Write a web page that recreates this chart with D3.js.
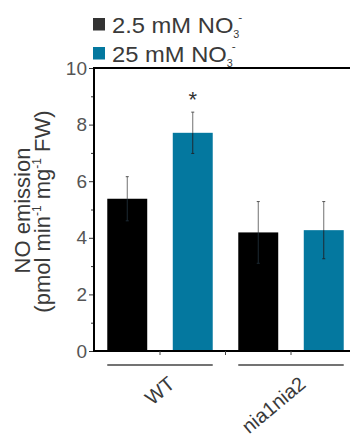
<!DOCTYPE html>
<html>
<head>
<meta charset="utf-8">
<script src="https://cdn.jsdelivr.net/npm/d3@7"></script>
<style>
  html, body { margin: 0; padding: 0; background: #fff; }
  svg { display: block; font-family: "Liberation Sans", Arial, Helvetica, sans-serif; }
</style>
</head>
<body>
<svg id="chart" width="350" height="437"></svg>
<script>
// ---- data ----
const groups = ["WT", "nia1nia2"];
const seriesNames = ["2.5 mM NO", "25 mM NO"];
const seriesColors = ["#000000", "#04789f"];
const legendColors = ["#333333", "#04789f"];
const means = [
  [5.38, 7.71],   // WT: 2.5, 25
  [4.19, 4.27]    // nia1nia2: 2.5, 25
];
const errors = [
  [0.78, 0.73],
  [1.09, 1.01]
];
const significant = [
  [false, true],
  [false, false]
];
const yTicks = [0, 2, 4, 6, 8, 10];
const yMinorTicks = [1, 3, 5, 7, 9];

// ---- layout ----
const svg = d3.select("#chart");
const plot = { left: 94, right: 356.5, top: 68, bottom: 351 };
const textColor = "#3a3a3a";

const y = d3.scaleLinear().domain([0, 10]).range([plot.bottom, plot.top]);
const x0 = d3.scaleBand().domain(groups).range([plot.left + 0.5, plot.right]).padding(0);
const x1 = d3.scaleBand().domain(d3.range(seriesNames.length))
  .range([0, x0.bandwidth()]).paddingInner(0.39).paddingOuter(0.195);

// flattened bar records
const bars = [];
groups.forEach((g, gi) => {
  seriesNames.forEach((s, si) => {
    bars.push({ g, gi, si, v: means[gi][si], e: errors[gi][si], sig: significant[gi][si] });
  });
});

// bars
svg.append("g").selectAll("rect").data(bars).join("rect")
  .attr("x", d => x0(d.g) + x1(d.si))
  .attr("y", d => y(d.v))
  .attr("width", x1.bandwidth())
  .attr("height", d => y(0) - y(d.v))
  .attr("fill", d => seriesColors[d.si]);

// error bars
const eg = svg.append("g").attr("stroke-width", 1);
bars.forEach(d => {
  const cx = x0(d.g) + x1(d.si) + x1.bandwidth() / 2;
  eg.append("line").attr("x1", cx).attr("x2", cx)
    .attr("y1", y(d.v)).attr("y2", y(d.v + d.e)).attr("stroke", "#707070");
  eg.append("line").attr("x1", cx).attr("x2", cx)
    .attr("y1", y(d.v - d.e)).attr("y2", y(d.v)).attr("stroke", "#1c2a33");
  eg.append("line").attr("x1", cx - 1.5).attr("x2", cx + 1.5)
    .attr("y1", y(d.v + d.e)).attr("y2", y(d.v + d.e)).attr("stroke", "#555");
  eg.append("line").attr("x1", cx - 1.5).attr("x2", cx + 1.5)
    .attr("y1", y(d.v - d.e)).attr("y2", y(d.v - d.e)).attr("stroke", "#1c2a33");
  if (d.sig) {
    svg.append("text").attr("x", cx).attr("y", y(d.v + d.e) - 5)
      .attr("text-anchor", "middle").attr("font-size", 22).attr("fill", "#333")
      .text("*");
  }
});

// y axis
const yAxis = d3.axisLeft(y).tickValues(yTicks).tickSize(5).tickFormat(d3.format("d"));
const ya = svg.append("g").attr("transform", `translate(${plot.left},0)`).call(yAxis);
ya.select(".domain").remove();
ya.selectAll(".tick line").attr("stroke", "#333").attr("stroke-width", 1);
ya.selectAll(".tick text").attr("font-size", 19).attr("fill", "#555")
  .attr("font-family", "Liberation Sans, Arial, sans-serif").attr("x", -7);
const yMinor = d3.axisLeft(y).tickValues(yMinorTicks).tickSize(3).tickFormat("");
const ym = svg.append("g").attr("transform", `translate(${plot.left},0)`).call(yMinor);
ym.select(".domain").remove();
ym.selectAll(".tick line").attr("stroke", "#333").attr("stroke-width", 1);

// frame lines
svg.append("line").attr("x1", plot.left).attr("x2", plot.left)
  .attr("y1", plot.top - 1).attr("y2", plot.bottom + 1)
  .attr("stroke", "#000").attr("stroke-width", 2);
svg.append("line").attr("x1", plot.left).attr("x2", 350)
  .attr("y1", plot.top).attr("y2", plot.top)
  .attr("stroke", "#000").attr("stroke-width", 2);
svg.append("line").attr("x1", plot.left).attr("x2", 350)
  .attr("y1", plot.bottom).attr("y2", plot.bottom)
  .attr("stroke", "#000").attr("stroke-width", 2);

// x ticks at boundaries between bars
const boundaries = [];
for (let i = 1; i < bars.length; i++) {
  const a = bars[i - 1], b = bars[i];
  const ra = x0(a.g) + x1(a.si) + x1.bandwidth();
  const lb = x0(b.g) + x1(b.si);
  boundaries.push((ra + lb) / 2);
}
svg.append("g").selectAll("line").data(boundaries).join("line")
  .attr("x1", d => d).attr("x2", d => d)
  .attr("y1", plot.bottom).attr("y2", plot.bottom + 4)
  .attr("stroke", "#444").attr("stroke-width", 1);

// group underlines + labels
groups.forEach((g, gi) => {
  const left = x0(g) + x1(0);
  const right = x0(g) + x1(seriesNames.length - 1) + x1.bandwidth();
  svg.append("line").attr("x1", left).attr("x2", right)
    .attr("y1", 365).attr("y2", 365)
    .attr("stroke", "#444").attr("stroke-width", 1.5);
  const cx = (left + right) / 2;
  svg.append("text")
    .attr("transform", `translate(${cx + 16},386) rotate(-40)`)
    .attr("text-anchor", "end").attr("font-size", 20).attr("fill", textColor)
    .text(g);
});

// y axis title
const yt = svg.append("text")
  .attr("transform", `translate(30,${(plot.top + plot.bottom) / 2 + 1}) rotate(-90)`)
  .attr("text-anchor", "middle").attr("font-size", 22).attr("fill", textColor);
yt.append("tspan").text("NO emission");
const yt2 = svg.append("text")
  .attr("transform", `translate(50,${(plot.top + plot.bottom) / 2 + 2}) rotate(-90)`)
  .attr("text-anchor", "middle").attr("font-size", 22).attr("fill", textColor);
yt2.append("tspan").text("(pmol min");
yt2.append("tspan").attr("font-size", 12).attr("dy", -9).text("-1");
yt2.append("tspan").attr("dy", 9).text(" mg");
yt2.append("tspan").attr("font-size", 12).attr("dy", -9).text("-1");
yt2.append("tspan").attr("dy", 9).text(" FW)");

// legend
const legendY = [18, 47];
seriesNames.forEach((s, i) => {
  svg.append("rect").attr("x", 93).attr("y", legendY[i]).attr("width", 12).attr("height", 12.5)
    .attr("fill", legendColors[i]);
  const t = svg.append("text")
    .attr("transform", `translate(112,${legendY[i] + 15}) scale(1.08,1)`)
    .attr("font-size", 22).attr("fill", textColor);
  t.append("tspan").text(s);
  t.append("tspan").attr("font-size", 10).attr("dy", 5).text("3");
  t.append("tspan").attr("font-size", 11).attr("dx", -1).attr("dy", -17).text("-");
});
</script>
</body>
</html>
